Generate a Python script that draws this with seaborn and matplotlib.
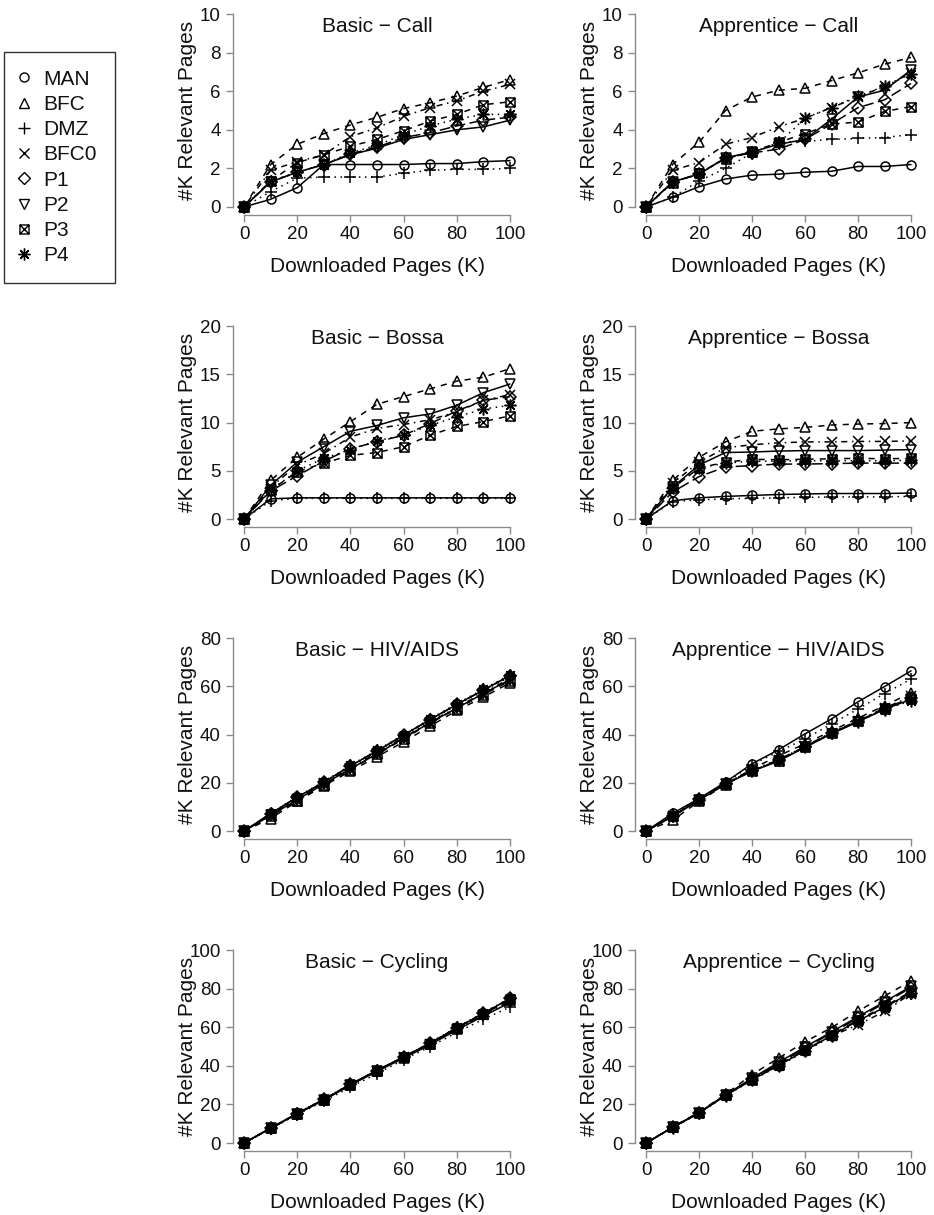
import numpy as np
import pandas as pd
import matplotlib
matplotlib.use("Agg")
import matplotlib.pyplot as plt
from matplotlib.path import Path
from matplotlib.lines import Line2D
import seaborn as sns

# --- data ---
PAGES = [0, 10, 20, 30, 40, 50, 60, 70, 80, 90, 100]
METHODS = ["MAN", "BFC", "DMZ", "BFC0", "P1", "P2", "P3", "P4"]

BASIC_CALL = {
    "MAN":  [0, 0.4, 1.0, 2.2, 2.2, 2.2, 2.2, 2.25, 2.25, 2.35, 2.4],
    "BFC":  [0, 2.2, 3.25, 3.8, 4.25, 4.65, 5.1, 5.4, 5.75, 6.2, 6.6],
    "DMZ":  [0, 0.8, 1.5, 1.55, 1.55, 1.55, 1.75, 1.9, 1.95, 1.95, 2.0],
    "BFC0": [0, 1.9, 2.35, 2.7, 3.65, 4.1, 4.7, 5.15, 5.5, 6.0, 6.35],
    "P1":   [0, 1.3, 1.8, 2.2, 2.75, 3.1, 3.6, 3.85, 4.2, 4.5, 4.65],
    "P2":   [0, 1.3, 1.8, 2.2, 2.7, 3.05, 3.5, 3.75, 4.0, 4.15, 4.5],
    "P3":   [0, 1.35, 2.3, 2.7, 3.15, 3.5, 3.95, 4.45, 4.8, 5.3, 5.45],
    "P4":   [0, 1.35, 1.8, 2.2, 2.8, 3.2, 3.75, 4.2, 4.55, 4.8, 4.8],
}
APPRENTICE_CALL = {
    "MAN":  [0, 0.5, 1.05, 1.45, 1.65, 1.7, 1.8, 1.85, 2.1, 2.1, 2.2],
    "BFC":  [0, 2.2, 3.35, 5.0, 5.7, 6.05, 6.15, 6.55, 6.95, 7.4, 7.75],
    "DMZ":  [0, 0.5, 1.35, 2.0, 2.8, 3.35, 3.4, 3.5, 3.55, 3.6, 3.75],
    "BFC0": [0, 1.9, 2.3, 3.25, 3.6, 4.15, 4.6, 5.15, 5.7, 6.25, 6.95],
    "P1":   [0, 1.3, 1.7, 2.55, 2.8, 3.0, 3.5, 4.3, 5.15, 5.55, 6.4],
    "P2":   [0, 1.3, 1.7, 2.55, 2.85, 3.25, 3.5, 4.55, 5.7, 6.05, 7.1],
    "P3":   [0, 1.25, 1.75, 2.5, 2.85, 3.35, 3.8, 4.3, 4.4, 4.95, 5.2],
    "P4":   [0, 1.3, 1.7, 2.55, 2.8, 3.3, 4.6, 5.15, 5.75, 6.25, 6.9],
}
BASIC_BOSSA = {
    "MAN":  [0, 2.1, 2.2, 2.2, 2.2, 2.2, 2.2, 2.2, 2.2, 2.2, 2.2],
    "BFC":  [0, 4.0, 6.4, 8.3, 10.1, 11.9, 12.7, 13.5, 14.3, 14.7, 15.6],
    "DMZ":  [0, 1.9, 2.15, 2.15, 2.15, 2.15, 2.15, 2.15, 2.15, 2.15, 2.15],
    "BFC0": [0, 3.3, 5.6, 6.8, 8.5, 9.4, 9.8, 10.3, 11.1, 12.3, 12.9],
    "P1":   [0, 2.9, 4.5, 6.0, 7.3, 8.0, 8.7, 9.9, 11.2, 12.3, 12.7],
    "P2":   [0, 3.5, 5.9, 7.5, 9.1, 9.7, 10.5, 10.9, 11.8, 13.1, 14.0],
    "P3":   [0, 3.0, 4.9, 5.8, 6.6, 6.9, 7.5, 8.7, 9.6, 10.1, 10.7],
    "P4":   [0, 3.0, 5.0, 6.3, 7.2, 8.1, 8.7, 9.7, 10.6, 11.4, 11.8],
}
APPRENTICE_BOSSA = {
    "MAN":  [0, 1.9, 2.2, 2.35, 2.45, 2.55, 2.6, 2.65, 2.65, 2.65, 2.7],
    "BFC":  [0, 4.0, 6.4, 8.0, 9.1, 9.35, 9.5, 9.75, 9.85, 9.9, 10.0],
    "DMZ":  [0, 1.8, 2.0, 2.1, 2.15, 2.2, 2.25, 2.3, 2.3, 2.3, 2.35],
    "BFC0": [0, 3.7, 5.9, 7.4, 7.7, 7.9, 8.0, 8.0, 8.05, 8.05, 8.1],
    "P1":   [0, 2.8, 4.4, 5.4, 5.55, 5.7, 5.7, 5.75, 5.8, 5.8, 5.8],
    "P2":   [0, 3.3, 5.6, 6.9, 6.95, 7.05, 7.1, 7.1, 7.1, 7.15, 7.2],
    "P3":   [0, 3.2, 5.3, 5.9, 6.2, 6.15, 6.2, 6.25, 6.3, 6.25, 6.3],
    "P4":   [0, 3.2, 5.3, 5.8, 6.0, 6.0, 6.05, 6.05, 6.05, 6.05, 6.1],
}
BASIC_HIV = {
    "MAN":  [0, 7.3, 14.0, 20.3, 27.0, 33.2, 39.8, 46.3, 52.5, 58.5, 64.5],
    "BFC":  [0, 5.2, 12.3, 18.8, 24.8, 30.8, 37.0, 43.5, 50.0, 55.5, 61.5],
    "DMZ":  [0, 7.0, 13.8, 20.0, 26.8, 33.0, 39.5, 46.0, 52.2, 58.2, 64.0],
    "BFC0": [0, 6.8, 13.5, 19.8, 26.2, 32.5, 38.8, 45.2, 51.3, 57.3, 63.2],
    "P1":   [0, 7.2, 14.1, 20.2, 27.0, 33.3, 39.7, 46.2, 52.5, 58.4, 64.4],
    "P2":   [0, 6.5, 13.0, 19.5, 25.8, 32.0, 38.5, 45.0, 51.0, 57.0, 62.8],
    "P3":   [0, 6.2, 12.6, 19.2, 25.5, 31.8, 38.2, 44.7, 50.8, 56.5, 62.3],
    "P4":   [0, 7.3, 14.3, 20.5, 27.3, 33.5, 40.0, 46.5, 52.8, 58.8, 64.8],
}
APPRENTICE_HIV = {
    "MAN":  [0, 7.3, 13.5, 20.3, 27.9, 33.7, 40.3, 46.5, 53.6, 59.9, 66.4],
    "BFC":  [0, 4.5, 12.3, 19.3, 25.8, 31.2, 36.2, 41.5, 46.8, 52.0, 57.3],
    "DMZ":  [0, 7.0, 13.3, 20.0, 27.5, 33.0, 38.2, 44.4, 50.6, 57.0, 63.0],
    "BFC0": [0, 6.2, 13.0, 19.7, 25.2, 29.5, 35.2, 40.8, 45.8, 51.0, 55.8],
    "P1":   [0, 6.3, 13.1, 19.6, 25.0, 29.3, 35.0, 40.6, 45.6, 50.8, 55.2],
    "P2":   [0, 6.0, 12.8, 19.4, 24.8, 29.0, 34.7, 40.3, 45.3, 50.5, 54.6],
    "P3":   [0, 6.1, 12.9, 19.5, 24.9, 29.2, 34.8, 40.5, 45.5, 50.6, 54.9],
    "P4":   [0, 6.2, 13.0, 19.8, 25.3, 29.6, 35.1, 40.7, 45.4, 50.4, 54.0],
}
BASIC_CYCLING = {
    "MAN":  [0, 7.8, 15.4, 22.6, 30.5, 37.7, 44.6, 51.8, 59.7, 67.2, 74.8],
    "BFC":  [0, 7.6, 15.2, 22.4, 30.2, 37.4, 44.3, 51.5, 59.3, 66.8, 74.2],
    "DMZ":  [0, 7.4, 14.8, 21.7, 29.0, 36.0, 43.2, 50.0, 57.3, 64.2, 70.5],
    "BFC0": [0, 7.7, 15.3, 22.5, 30.3, 37.5, 44.5, 51.6, 59.2, 66.5, 73.6],
    "P1":   [0, 7.8, 15.3, 22.7, 30.4, 37.6, 44.7, 51.9, 59.8, 67.3, 75.0],
    "P2":   [0, 7.6, 15.1, 22.3, 30.0, 37.2, 44.0, 51.0, 58.6, 65.8, 72.8],
    "P3":   [0, 7.7, 15.2, 22.5, 30.3, 37.6, 44.4, 51.6, 59.5, 67.0, 74.5],
    "P4":   [0, 7.8, 15.5, 22.8, 30.6, 37.8, 44.8, 52.0, 60.0, 67.5, 75.2],
}
APPRENTICE_CYCLING = {
    "MAN":  [0, 8.1, 15.6, 24.7, 32.8, 40.2, 47.9, 55.7, 63.4, 70.3, 78.0],
    "BFC":  [0, 8.3, 16.0, 25.3, 35.5, 44.0, 52.5, 59.8, 68.4, 76.2, 84.0],
    "DMZ":  [0, 8.0, 15.4, 24.5, 32.5, 40.0, 47.5, 55.3, 62.8, 69.8, 77.3],
    "BFC0": [0, 8.1, 15.7, 24.8, 33.0, 40.6, 48.3, 55.5, 61.3, 68.2, 77.5],
    "P1":   [0, 8.1, 15.6, 24.8, 33.3, 41.2, 49.2, 57.0, 64.8, 72.5, 80.6],
    "P2":   [0, 8.2, 15.8, 25.0, 33.6, 41.8, 49.8, 57.6, 65.5, 73.2, 81.2],
    "P3":   [0, 8.1, 15.6, 24.7, 32.9, 40.5, 48.2, 56.0, 63.8, 70.8, 78.5],
    "P4":   [0, 8.0, 15.5, 24.6, 32.7, 40.0, 47.8, 55.5, 63.0, 70.0, 77.6],
}

# panel: (title, data, y max, y tick step, column, row)
PANELS = [
    ("Basic \u2212 Call", BASIC_CALL, 10, 2, 0, 0),
    ("Apprentice \u2212 Call", APPRENTICE_CALL, 10, 2, 1, 0),
    ("Basic \u2212 Bossa", BASIC_BOSSA, 20, 5, 0, 1),
    ("Apprentice \u2212 Bossa", APPRENTICE_BOSSA, 20, 5, 1, 1),
    ("Basic \u2212 HIV/AIDS", BASIC_HIV, 80, 20, 0, 2),
    ("Apprentice \u2212 HIV/AIDS", APPRENTICE_HIV, 80, 20, 1, 2),
    ("Basic \u2212 Cycling", BASIC_CYCLING, 100, 20, 0, 3),
    ("Apprentice \u2212 Cycling", APPRENTICE_CYCLING, 100, 20, 1, 3),
]

# --- R-like point symbols (pch 1..8) and line types (matplot lty 1..5 recycled) ---
boxed_x = Path(
    [(-1, -1), (1, -1), (1, 1), (-1, 1), (-1, -1), (-1, -1), (1, 1), (-1, 1), (1, -1)],
    [Path.MOVETO, Path.LINETO, Path.LINETO, Path.LINETO, Path.CLOSEPOLY,
     Path.MOVETO, Path.LINETO, Path.MOVETO, Path.LINETO],
)
MARKERS = {"MAN": "o", "BFC": "^", "DMZ": "+", "BFC0": "x",
           "P1": "D", "P2": "v", "P3": boxed_x, "P4": (8, 2, 0)}
MSIZE = {"MAN": 6.5, "BFC": 7.5, "DMZ": 8.5, "BFC0": 7,
         "P1": 6, "P2": 7.5, "P3": 6.5, "P4": 8.5}
SOLID = "-"
DASHED = (0, (4, 4))
DOTTED = (0, (1, 3))
DOTDASH = (0, (1, 3, 4, 3))
LONGDASH = (0, (7, 3))
LINES = {"MAN": SOLID, "BFC": DASHED, "DMZ": DOTTED, "BFC0": DOTDASH,
         "P1": LONGDASH, "P2": SOLID, "P3": DASHED, "P4": DOTTED}

sns.set_theme(style="ticks")
plt.rcParams["font.family"] = ["Liberation Sans", "DejaVu Sans"]

W, H = 934, 1215
fig = plt.figure(figsize=(W / 100, H / 100), dpi=100)

AX_LEFT = [233.4, 635.4]
AX_WIDTH = [287.2, 286.2]
AX_BOTTOM = [214.7, 526.8, 838.8, 1150.8]
AX_HEIGHT = 208.4
AXIS_GREY = "#8a8a8a"
TEXT = "#111111"

for title, data, ymax, ystep, col, row in PANELS:
    ax = fig.add_axes([AX_LEFT[col] / W, 1 - AX_BOTTOM[row] / H,
                       AX_WIDTH[col] / W, AX_HEIGHT / H])
    for m in METHODS:
        df = pd.DataFrame({"pages": PAGES, "relevant": data[m]})
        sns.lineplot(data=df, x="pages", y="relevant", ax=ax, color="black",
                     linestyle=LINES[m], linewidth=1.1, marker=MARKERS[m],
                     markersize=MSIZE[m], mfc="none", mec="black", mew=1.1,
                     legend=False)

    ax.set_xlim(-4, 104)
    ax.set_ylim(-0.04 * ymax, 1.04 * ymax)
    ax.set_xticks(np.arange(0, 101, 20))
    ax.set_yticks(np.arange(0, ymax + 0.1, ystep))
    for s in ["top", "right"]:
        ax.spines[s].set_visible(False)
    ax.spines["left"].set_bounds(0, ymax)
    ax.spines["bottom"].set_bounds(0, 100)
    for s in ["left", "bottom"]:
        ax.spines[s].set_color(AXIS_GREY)
        ax.spines[s].set_linewidth(1.0)
    ax.tick_params(axis="both", direction="out", length=5, width=1.0,
                   color=AXIS_GREY, labelcolor=TEXT, labelsize=13.5)
    ax.tick_params(axis="x", pad=3)
    ax.tick_params(axis="y", pad=4)

    ax.set_xlabel("Downloaded Pages (K)", fontsize=15, color=TEXT)
    ax.xaxis.set_label_coords(0.5, -52 / AX_HEIGHT)
    ax.xaxis.label.set_va("center")
    ax.set_ylabel("#K Relevant Pages", fontsize=15, color=TEXT)
    ax.yaxis.set_label_coords(-46 / AX_WIDTH[col], 0.5)
    ax.yaxis.label.set_va("center")
    ax.text(0.5, 1 - 20 / AX_HEIGHT, title, transform=ax.transAxes,
            ha="center", va="center", fontsize=15, color=TEXT)

handles = [Line2D([], [], linestyle="none", marker=MARKERS[m], markersize=MSIZE[m],
                  mfc="none", mec="black", mew=1.0, color="black") for m in METHODS]
leg = fig.legend(handles, METHODS, loc="upper left",
                 bbox_to_anchor=(4 / W, 1 - 52 / H), frameon=True, fancybox=False,
                 edgecolor="black", fontsize=15, labelspacing=0.3,
                 handlelength=0.25, handletextpad=0.8, borderpad=0.85,
                 borderaxespad=0)
leg.get_frame().set_linewidth(1.0)
for t in leg.get_texts():
    t.set_color(TEXT)

fig.savefig("out.png", dpi=100)
